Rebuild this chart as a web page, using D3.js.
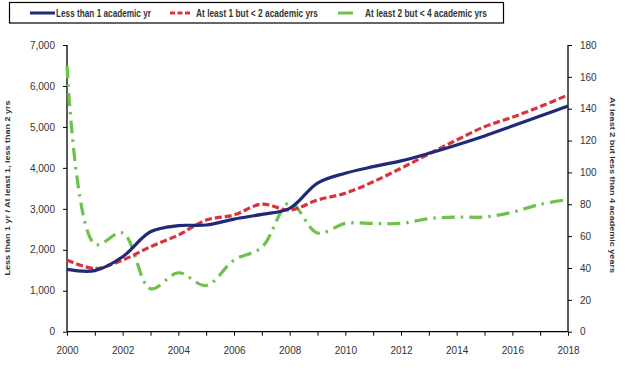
<html>
<head>
<script src="https://d3js.org/d3.v7.min.js"></script>
<style>
  body { margin: 0; background: #fff; }
  svg text { font-family: "Liberation Sans", Arial, sans-serif; fill: #333; }
  .axis path, .axis line { stroke: #000; }
</style>
</head>
<body>
<svg id="chart" width="625" height="383"></svg>
<script>
// values
const years = [2000,2001,2002,2003,2004,2005,2006,2007,2008,2009,2010,2011,2012,2013,2014,2015,2016,2017,2018];
const lessThan1 = [1520,1490,1830,2440,2590,2605,2750,2865,3010,3630,3870,4030,4170,4355,4560,4780,5020,5265,5510];
const oneToTwo = [1750,1545,1750,2075,2360,2725,2850,3115,2970,3215,3380,3660,3990,4340,4680,5005,5235,5495,5780];
const twoToFour = [167,55,62,27,37,29,45,53,81,62,68,68,68,71,72,72,75,80,83];
const xTickYears = [2000,2002,2004,2006,2008,2010,2012,2014,2016,2018];
const leftTicks = [0,1000,2000,3000,4000,5000,6000,7000];
const rightTicks = [0,20,40,60,80,100,120,140,160,180];
const seriesNames = ["Less than 1 academic yr", "At least 1 but < 2 academic yrs", "At least 2 but < 4 academic yrs"];

const svg = d3.select("#chart");
const plotLeft = 67, plotRight = 568, plotTop = 45, plotBottom = 331.7;

const x = d3.scaleLinear().domain([2000, 2018]).range([plotLeft, plotRight]);
const yL = d3.scaleLinear().domain([0, 7000]).range([plotBottom, plotTop]);
const yR = d3.scaleLinear().domain([0, 180]).range([plotBottom, plotTop]);

// axes
svg.append("g").attr("class", "axis")
  .attr("transform", "translate(" + plotLeft + ",0)")
  .call(d3.axisLeft(yL).tickValues(leftTicks).tickFormat(d3.format(",")).tickSize(4).tickPadding(8))
  .call(g => g.select(".domain").attr("d", "M0," + plotTop + "V" + plotBottom));

svg.append("g").attr("class", "axis")
  .attr("transform", "translate(" + plotRight + ",0)")
  .call(d3.axisRight(yR).tickValues(rightTicks).tickSize(4).tickPadding(8))
  .call(g => g.select(".domain").attr("d", "M0," + plotTop + "V" + plotBottom));

svg.append("g").attr("class", "axis")
  .attr("transform", "translate(0," + plotBottom + ")")
  .call(d3.axisBottom(x).tickValues(years).tickSize(4).tickPadding(11)
    .tickFormat(d => xTickYears.includes(d) ? d : ""))
  .call(g => g.select(".domain").attr("d", "M" + plotLeft + ",0H" + plotRight));

svg.selectAll(".axis text").style("font-size", "10px");
svg.selectAll(".axis .domain").attr("stroke-width", 1.3);

// axis titles
svg.append("text")
  .attr("transform", "translate(10,188) rotate(-90)")
  .attr("text-anchor", "middle")
  .style("font-size", "8px").style("font-weight", "bold")
  .attr("textLength", 175).attr("lengthAdjust", "spacingAndGlyphs")
  .text("Less than 1 yr / At least 1, less than 2 yrs");

svg.append("text")
  .attr("transform", "translate(610,185) rotate(90)")
  .attr("text-anchor", "middle")
  .style("font-size", "8px").style("font-weight", "bold")
  .attr("textLength", 176).attr("lengthAdjust", "spacingAndGlyphs")
  .text("At least 2 but less than 4 academic years");

// lines
const curve = d3.curveCatmullRom.alpha(0.5);
const lineL = d3.line().x((d, i) => x(years[i])).y(d => yL(d)).curve(curve);
const lineR = d3.line().x((d, i) => x(years[i])).y(d => yR(d)).curve(curve);

svg.append("path").datum(twoToFour)
  .attr("d", lineR).attr("fill", "none")
  .attr("stroke", "#6cc24a").attr("stroke-width", 3.2)
  .attr("stroke-dasharray", "13,6,2.5,6");

svg.append("path").datum(oneToTwo)
  .attr("d", lineL).attr("fill", "none")
  .attr("stroke", "#d8343d").attr("stroke-width", 3.2)
  .attr("stroke-dasharray", "7,3");

svg.append("path").datum(lessThan1)
  .attr("d", lineL).attr("fill", "none")
  .attr("stroke", "#1f2a78").attr("stroke-width", 3.2);

// legend
const legend = svg.append("g");
legend.append("rect").attr("x", 9.5).attr("y", 2.5).attr("width", 494).attr("height", 20.5)
  .attr("fill", "#fff").attr("stroke", "#000").attr("stroke-width", 1.2);

const legendItems = [
  { name: seriesNames[0], color: "#1f2a78", dash: null, x1: 30, x2: 55, tx: 56, tl: 95 },
  { name: seriesNames[1], color: "#d8343d", dash: "5,2.5", x1: 170, x2: 192, tx: 196, tl: 122 },
  { name: seriesNames[2], color: "#6cc24a", dash: null, x1: 338, x2: 353, tx: 365, tl: 122 }
];
legendItems.forEach(it => {
  legend.append("line").attr("x1", it.x1).attr("x2", it.x2).attr("y1", 13).attr("y2", 13)
    .attr("stroke", it.color).attr("stroke-width", 3)
    .attr("stroke-dasharray", it.dash);
  legend.append("text").attr("x", it.tx).attr("y", 16.5)
    .style("font-size", "10px").style("font-weight", "bold")
    .attr("textLength", it.tl).attr("lengthAdjust", "spacingAndGlyphs")
    .text(it.name);
});
</script>
</body>
</html>
